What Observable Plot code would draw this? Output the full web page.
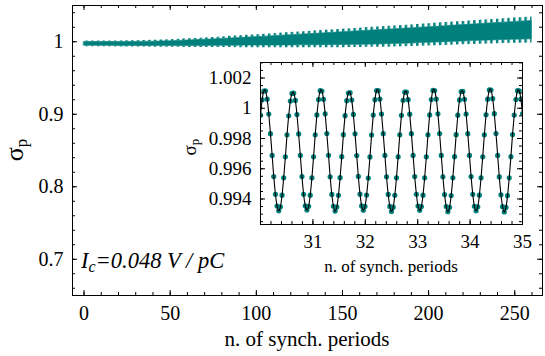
<!DOCTYPE html>
<html><head><meta charset="utf-8">
<script src="https://cdn.jsdelivr.net/npm/d3@7"></script>
<script src="https://cdn.jsdelivr.net/npm/@observablehq/plot@0.6"></script>
<style>
body{margin:0;background:#fff;}
#wrap{position:relative;width:545px;height:356px;overflow:hidden;}
#wrap svg{position:absolute;}
</style></head><body><div id="wrap"></div>
<script>
// ---- main plot: envelope of the oscillating sigma_p band (tips and notches of the serrated edges) ----
const bandT          = [0,10,20,30,40,50,60,70,80,90,100,110,120,130,140,150,160,170,180,190,200,210,220,230,240,250,260];
const bandUpper      = [1.0011,1.0011,1.0012,1.0014,1.0020,1.0028,1.0040,1.0053,1.0067,1.0082,1.0097,1.0112,1.0127,1.0142,1.0157,1.0172,1.0187,1.0202,1.0217,1.0232,1.0248,1.0264,1.0280,1.0296,1.0312,1.0327,1.0342];
const bandUpperNotch = [0.9997,0.9996,0.9996,0.9997,1.0001,1.0007,1.0017,1.0027,1.0039,1.0051,1.0064,1.0077,1.0091,1.0104,1.0117,1.0131,1.0145,1.0158,1.0172,1.0185,1.0200,1.0215,1.0230,1.0244,1.0259,1.0273,1.0287];
const bandLowerNotch = [0.9945,0.9944,0.9943,0.9942,0.9942,0.9943,0.9943,0.9943,0.9944,0.9946,0.9947,0.9948,0.9949,0.9951,0.9953,0.9955,0.9958,0.9963,0.9969,0.9976,0.9985,0.9994,1.0003,1.0013,1.0021,1.0028,1.0033];
const bandLower      = [0.9932,0.9931,0.9929,0.9927,0.9925,0.9924,0.9922,0.9920,0.9919,0.9918,0.9917,0.9917,0.9917,0.9917,0.9917,0.9918,0.9920,0.9923,0.9928,0.9934,0.9942,0.9950,0.9958,0.9966,0.9973,0.9979,0.9983];

// ---- inset: simulated samples between 30 and 35 synch. periods ----
const insetT = [
30.000,30.032,30.063,30.095,30.127,30.158,30.190,30.222,30.253,30.285,30.316,30.348,30.380,30.411,30.443,30.475,30.506,
30.538,30.570,30.601,30.633,30.665,30.696,30.728,30.760,30.791,30.823,30.854,30.886,30.918,30.949,30.981,31.013,31.044,
31.076,31.108,31.139,31.171,31.203,31.234,31.266,31.298,31.329,31.361,31.392,31.424,31.456,31.487,31.519,31.551,31.582,
31.614,31.646,31.677,31.709,31.741,31.772,31.804,31.836,31.867,31.899,31.930,31.962,31.994,32.025,32.057,32.089,32.120,
32.152,32.184,32.215,32.247,32.279,32.310,32.342,32.374,32.405,32.437,32.468,32.500,32.532,32.563,32.595,32.627,32.658,
32.690,32.722,32.753,32.785,32.817,32.848,32.880,32.912,32.943,32.975,33.006,33.038,33.070,33.101,33.133,33.165,33.196,
33.228,33.260,33.291,33.323,33.355,33.386,33.418,33.450,33.481,33.513,33.544,33.576,33.608,33.639,33.671,33.703,33.734,
33.766,33.798,33.829,33.861,33.893,33.924,33.956,33.988,34.019,34.051,34.082,34.114,34.146,34.177,34.209,34.241,34.272,
34.304,34.336,34.367,34.399,34.431,34.462,34.494,34.526,34.557,34.589,34.620,34.652,34.684,34.715,34.747,34.779,34.810,
34.842,34.874,34.905,34.937,34.969,35.000];
const insetSigma = [
0.99954,1.00056,1.00114,1.00115,1.00060,0.99962,0.99832,0.99688,0.99548,0.99431,0.99353,0.99322,0.99348,0.99425,0.99540,0.99679,0.99824,
0.99950,1.00048,1.00098,1.00100,1.00052,0.99958,0.99830,0.99688,0.99548,0.99431,0.99355,0.99328,0.99352,0.99425,0.99540,0.99679,0.99824,
0.99956,1.00058,1.00116,1.00114,1.00059,0.99963,0.99833,0.99689,0.99547,0.99430,0.99352,0.99320,0.99347,0.99424,0.99541,0.99680,0.99825,
0.99951,1.00050,1.00101,1.00103,1.00054,0.99959,0.99831,0.99687,0.99549,0.99432,0.99354,0.99326,0.99351,0.99426,0.99539,0.99678,0.99823,
0.99955,1.00057,1.00117,1.00116,1.00061,0.99962,0.99832,0.99688,0.99547,0.99430,0.99351,0.99318,0.99346,0.99424,0.99540,0.99679,0.99824,
0.99953,1.00053,1.00106,1.00107,1.00057,0.99961,0.99832,0.99688,0.99548,0.99431,0.99353,0.99325,0.99350,0.99425,0.99540,0.99679,0.99824,
0.99956,1.00058,1.00118,1.00117,1.00061,0.99963,0.99833,0.99688,0.99547,0.99429,0.99350,0.99316,0.99345,0.99423,0.99540,0.99680,0.99825,
0.99954,1.00055,1.00110,1.00111,1.00059,0.99962,0.99832,0.99688,0.99548,0.99431,0.99352,0.99322,0.99348,0.99425,0.99540,0.99679,0.99824,
0.99957,1.00060,1.00121,1.00120,1.00063,0.99964,0.99833,0.99688,0.99546,0.99428,0.99349,0.99314,0.99344,0.99422,0.99540,0.99680,0.99826,
0.99955,1.00058,1.00116,1.00115,1.00061,0.99963];

// ---- tick labels / texts ----
const mainXTicks = [0,50,100,150,200,250];
const mainYTicks = [0.7,0.8,0.9,1];
const insetXTicks = [31,32,33,34,35];
const insetYTicks = [0.994,0.996,0.998,1,1.002];
const xLabel = "n. of synch. periods";
const yLabelMain = "σ", yLabelSub = "p";
const noteMain = "I", noteSub = "c", noteRest = "=0.048 V / pC";

const teal = "#00807c";
const TEETH_KEY = "#010203"; // placeholder colour replaced by the serration pattern
const FONT = "'Liberation Serif','Times New Roman',serif";
const wrap = document.getElementById("wrap");

function frameTicks(axis, vals, len, W, H) {
  const o = {stroke: "black", strokeWidth: 1};
  if (axis === "x") return [
    Plot.tickX(vals, {x: d => d, insetTop: H - len, ...o}),
    Plot.tickX(vals, {x: d => d, insetBottom: H - len, ...o})];
  return [
    Plot.tickY(vals, {y: d => d, insetRight: W - len, ...o}),
    Plot.tickY(vals, {y: d => d, insetLeft: W - len, ...o})];
}

// ---------- main chart ----------
const M = {left: 72, right: 3, top: 5, bottom: 61}, WIDTH = 545, HEIGHT = 356;
const W = WIDTH - M.left - M.right, H = HEIGHT - M.top - M.bottom;
const band = bandT.map((t, i) => ({t, lo: bandLower[i], loN: bandLowerNotch[i], hiN: bandUpperNotch[i], hi: bandUpper[i]}));

const main = Plot.plot({
  width: WIDTH, height: HEIGHT,
  marginLeft: M.left, marginRight: M.right, marginTop: M.top, marginBottom: M.bottom,
  style: {fontFamily: FONT, fontSize: "20px", color: "black", background: "white"},
  x: {domain: [-6.7, 266.1]},
  y: {domain: [0.65, 1.05]},
  marks: [
    Plot.areaY(band, {x: "t", y1: "loN", y2: "hiN", fill: teal, stroke: teal, strokeWidth: 0.6, curve: "monotone-x"}),
    Plot.areaY(band, {x: "t", y1: "hiN", y2: "hi", fill: TEETH_KEY, curve: "monotone-x"}),
    Plot.areaY(band, {x: "t", y1: "lo", y2: "loN", fill: TEETH_KEY, curve: "monotone-x"}),
    ...frameTicks("x", mainXTicks, 5, W, H),
    ...frameTicks("x", d3.range(0, 261, 10), 3, W, H),
    ...frameTicks("y", mainYTicks, 5, W, H),
    ...frameTicks("y", d3.range(0.66, 1.041, 0.02), 3, W, H),
    Plot.axisX(mainXTicks, {tickSize: 0, tickPadding: 10, fontSize: 20, label: null, tickFormat: d => String(d)}),
    Plot.axisY(mainYTicks, {tickSize: 0, tickPadding: 9, fontSize: 20, label: null, tickFormat: d => String(d)}),
    Plot.frame({stroke: "black", strokeWidth: 1})
  ]
});
main.style.left = "0px"; main.style.top = "0px";
wrap.appendChild(main);

const ms = d3.select(main);
// serrated edge pattern (rendering texture of the dense oscillation)
const pat = ms.insert("defs", ":first-child").append("pattern")
  .attr("id", "teethPat").attr("patternUnits", "userSpaceOnUse")
  .attr("width", 5.7).attr("height", 8);
pat.append("rect").attr("x", 0).attr("y", 0).attr("width", 2.4).attr("height", 8).attr("fill", teal);
ms.selectAll(`[fill="${TEETH_KEY}"]`).attr("fill", "url(#teethPat)");

ms.append("text")
  .attr("x", M.left + W / 2).attr("y", 346)
  .attr("text-anchor", "middle").attr("font-family", FONT).attr("font-size", 21)
  .text(xLabel);
const yl = ms.append("text")
  .attr("transform", `translate(23,${M.top + H / 2}) rotate(-90)`)
  .attr("text-anchor", "middle").attr("font-family", FONT).attr("font-size", 26);
yl.append("tspan").text(yLabelMain);
yl.append("tspan").attr("font-size", 17).attr("dy", 4).text(yLabelSub);
const note = ms.append("text")
  .attr("x", 81).attr("y", 268).attr("text-anchor", "start")
  .attr("font-family", FONT).attr("font-size", 22.5).attr("font-style", "italic")
  .style("white-space", "pre");
note.append("tspan").text(noteMain);
note.append("tspan").attr("font-size", 16).attr("dy", 4).text(noteSub);
note.append("tspan").attr("dy", -4).text(noteRest);

// ---------- inset ----------
const IM = {left: 80, right: 15, top: 10, bottom: 60}, IW = 262, IH = 162;
const insetData = insetT.map((t, i) => ({t, s: insetSigma[i]}));
const inset = Plot.plot({
  width: IM.left + IW + IM.right, height: IM.top + IH + IM.bottom,
  marginLeft: IM.left, marginRight: IM.right, marginTop: IM.top, marginBottom: IM.bottom,
  style: {fontFamily: FONT, fontSize: "19px", color: "black", background: "transparent"},
  x: {domain: [30, 35]},
  y: {domain: [0.992314, 1.003025]},
  marks: [
    Plot.dot(insetData, {x: "t", y: "s", r: 2.6, fill: teal, stroke: "none", clip: true}),
    Plot.line(insetData, {x: "t", y: "s", stroke: "black", strokeWidth: 1.1, curve: "natural", clip: true}),
    ...frameTicks("x", insetXTicks, 5, IW, IH),
    ...frameTicks("x", d3.range(30.2, 34.9, 0.2), 3, IW, IH),
    ...frameTicks("y", insetYTicks, 5, IW, IH),
    ...frameTicks("y", d3.range(0.9925, 1.00301, 0.0005), 3, IW, IH),
    Plot.axisX(insetXTicks, {tickSize: 0, tickPadding: 10, fontSize: 19, label: null, tickFormat: d => String(d)}),
    Plot.axisY(insetYTicks, {tickSize: 0, tickPadding: 9, fontSize: 19, label: null, tickFormat: d => String(d)}),
    Plot.frame({stroke: "black", strokeWidth: 1})
  ]
});
inset.style.left = "180px"; inset.style.top = "52px";
wrap.appendChild(inset);
const is = d3.select(inset);
is.append("text")
  .attr("x", IM.left + IW / 2).attr("y", IM.top + IH + 48)
  .attr("text-anchor", "middle").attr("font-family", FONT).attr("font-size", 17)
  .text(xLabel);
const iyl = is.append("text")
  .attr("transform", `translate(16,${IM.top + 85}) rotate(-90)`)
  .attr("text-anchor", "middle").attr("font-family", FONT).attr("font-size", 19);
iyl.append("tspan").text(yLabelMain);
iyl.append("tspan").attr("font-size", 13).attr("dy", 3).text(yLabelSub);
</script></body></html>
